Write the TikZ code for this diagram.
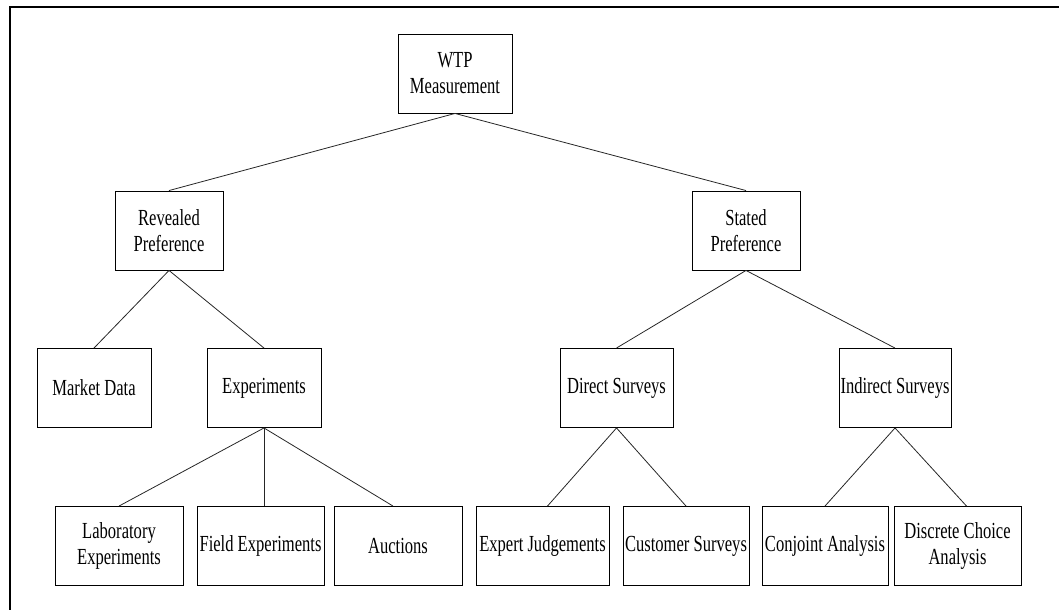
\documentclass[tikz,border=0pt]{standalone}
\usepackage{fontspec}
\setmainfont[FakeStretch=0.72]{Liberation Serif}
\begin{document}
\begin{tikzpicture}[x=1pt,y=-1pt,
  box/.style={draw=black, line width=0.9pt, minimum height=79pt, inner sep=0pt,
    align=center, font=\fontsize{23}{26}\selectfont},
  conn/.style={draw=black!85, line width=0.8pt},
  frame/.style={draw=black, line width=2pt}]
\useasboundingbox (0,0) rectangle (1059,610);
\coordinate (ftop) at (9,7);
\coordinate (fright) at (1059,7);
\coordinate (fbot) at (10,610);
\draw[frame] (fright) -- (ftop) -- (10,7) -- (fbot);

\node[box, minimum width=114pt] (wtp) at (455,73.5) {WTP\\Measurement};
\node[box, minimum width=108pt] (rev) at (169,230.5) {Revealed\\Preference};
\node[box, minimum width=108pt] (sta) at (746,230.5) {Stated\\Preference};

\node[box, minimum width=114pt] (mkt) at (94,388) {Market Data};
\node[box, minimum width=114pt] (exp) at (264,388) {Experiments};
\node[box, minimum width=113pt] (dir) at (616.5,388) {Direct Surveys};
\node[box, minimum width=112pt] (ind) at (895,388) {Indirect Surveys};

\node[box, minimum width=128pt] (lab) at (119,546) {Laboratory\\Experiments};
\node[box, minimum width=127pt] (fld) at (260.5,546) {Field Experiments};
\node[box, minimum width=128pt] (auc) at (398,546) {Auctions};
\node[box, minimum width=133pt] (xpt) at (542.5,546) {Expert Judgements};
\node[box, minimum width=126pt] (cus) at (686,546) {Customer Surveys};
\node[box, minimum width=126pt] (con) at (825,546) {Conjoint Analysis};
\node[box, minimum width=127pt] (dis) at (957.5,546) {Discrete Choice\\Analysis};

\draw[conn] (wtp.south) -- (rev.north);
\draw[conn] (wtp.south) -- (sta.north);
\draw[conn] (rev.south) -- (mkt.north);
\draw[conn] (rev.south) -- (exp.north);
\draw[conn] (exp.south) -- (lab.north);
\draw[conn] (exp.south) -- (exp.south |- fld.north);
\draw[conn] (exp.south) -- ([xshift=-5pt]auc.north);
\draw[conn] (sta.south) -- (dir.north);
\draw[conn] (sta.south) -- (ind.north);
\draw[conn] (dir.south) -- ([xshift=5pt]xpt.north);
\draw[conn] (dir.south) -- (cus.north);
\draw[conn] (ind.south) -- (con.north);
\draw[conn] (ind.south) -- ([xshift=9pt]dis.north);
\end{tikzpicture}
\end{document}
